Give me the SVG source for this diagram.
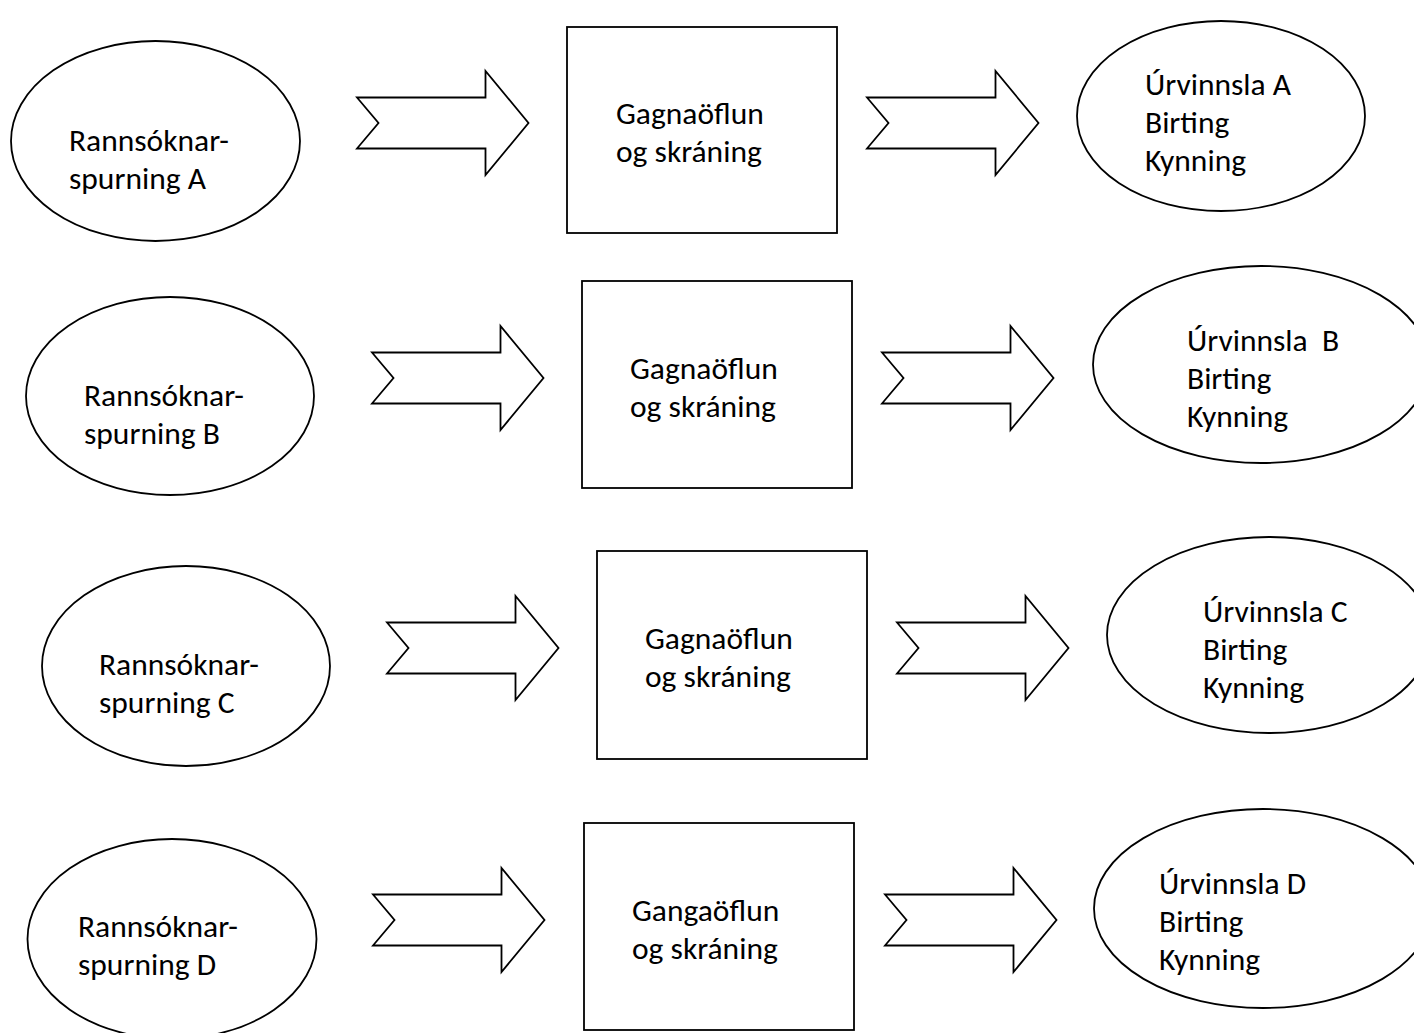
<svg xmlns="http://www.w3.org/2000/svg" width="1414" height="1033" viewBox="0 0 1414 1033">
<style>
.shape{fill:#fff;stroke:#000;stroke-width:1.8}
.arrow{fill:#fff;stroke:#000;stroke-width:1.8;stroke-linejoin:miter}
text{font-family:Carlito,"Open Sans","Liberation Sans",sans-serif;font-size:31.5px;fill:#000}
</style>
<defs>
<path id="arr" d="M0,-25.5 H128.5 V-52 L171.5,0 L128.5,52 V25.5 H0 L21.5,0 Z"/>
</defs>
<rect width="1414" height="1033" fill="#fff"/>
<g id="connectors">
<use href="#arr" class="arrow" transform="translate(357,123)"/>
<use href="#arr" class="arrow" transform="translate(867,123)"/>
<use href="#arr" class="arrow" transform="translate(372,378)"/>
<use href="#arr" class="arrow" transform="translate(882,378)"/>
<use href="#arr" class="arrow" transform="translate(387,648)"/>
<use href="#arr" class="arrow" transform="translate(897,648)"/>
<use href="#arr" class="arrow" transform="translate(373,920)"/>
<use href="#arr" class="arrow" transform="translate(885,920)"/>
</g>
<g id="questionA"><ellipse class="shape" cx="155.5" cy="141" rx="144.5" ry="100"/><text x="69" y="151">Rannsóknar-</text><text x="69" y="189">spurning A</text></g>
<g id="questionB"><ellipse class="shape" cx="170" cy="396" rx="144" ry="99"/><text x="84" y="406">Rannsóknar-</text><text x="84" y="444">spurning B</text></g>
<g id="questionC"><ellipse class="shape" cx="186" cy="666" rx="144" ry="100"/><text x="99" y="675">Rannsóknar-</text><text x="99" y="713">spurning C</text></g>
<g id="questionD"><ellipse class="shape" cx="172" cy="939" rx="144.5" ry="100"/><text x="78" y="937">Rannsóknar-</text><text x="78" y="975">spurning D</text></g>
<g id="dataA"><rect class="shape" x="567" y="27" width="270" height="206"/><text x="616" y="124">Gagnaöflun</text><text x="616" y="162">og skráning</text></g>
<g id="dataB"><rect class="shape" x="582" y="281" width="270" height="207"/><text x="630" y="379">Gagnaöflun</text><text x="630" y="417">og skráning</text></g>
<g id="dataC"><rect class="shape" x="597" y="551" width="270" height="208"/><text x="645" y="649">Gagnaöflun</text><text x="645" y="687">og skráning</text></g>
<g id="dataD"><rect class="shape" x="584" y="823" width="270" height="207"/><text x="632" y="921">Gangaöflun</text><text x="632" y="959">og skráning</text></g>
<g id="resultA"><ellipse class="shape" cx="1221" cy="116" rx="144" ry="95"/><text x="1145" y="95">Úrvinnsla A</text><text x="1145" y="133">Birting</text><text x="1145" y="171">Kynning</text></g>
<g id="resultB"><ellipse class="shape" cx="1261" cy="364.5" rx="168" ry="98.5"/><text x="1187" y="351" xml:space="preserve">Úrvinnsla  B</text><text x="1187" y="389">Birting</text><text x="1187" y="427">Kynning</text></g>
<g id="resultC"><ellipse class="shape" cx="1269" cy="635" rx="162" ry="98"/><text x="1203" y="622">Úrvinnsla C</text><text x="1203" y="660">Birting</text><text x="1203" y="698">Kynning</text></g>
<g id="resultD"><ellipse class="shape" cx="1263" cy="908.5" rx="169" ry="99.5"/><text x="1159" y="894">Úrvinnsla D</text><text x="1159" y="932">Birting</text><text x="1159" y="970">Kynning</text></g>
</svg>
